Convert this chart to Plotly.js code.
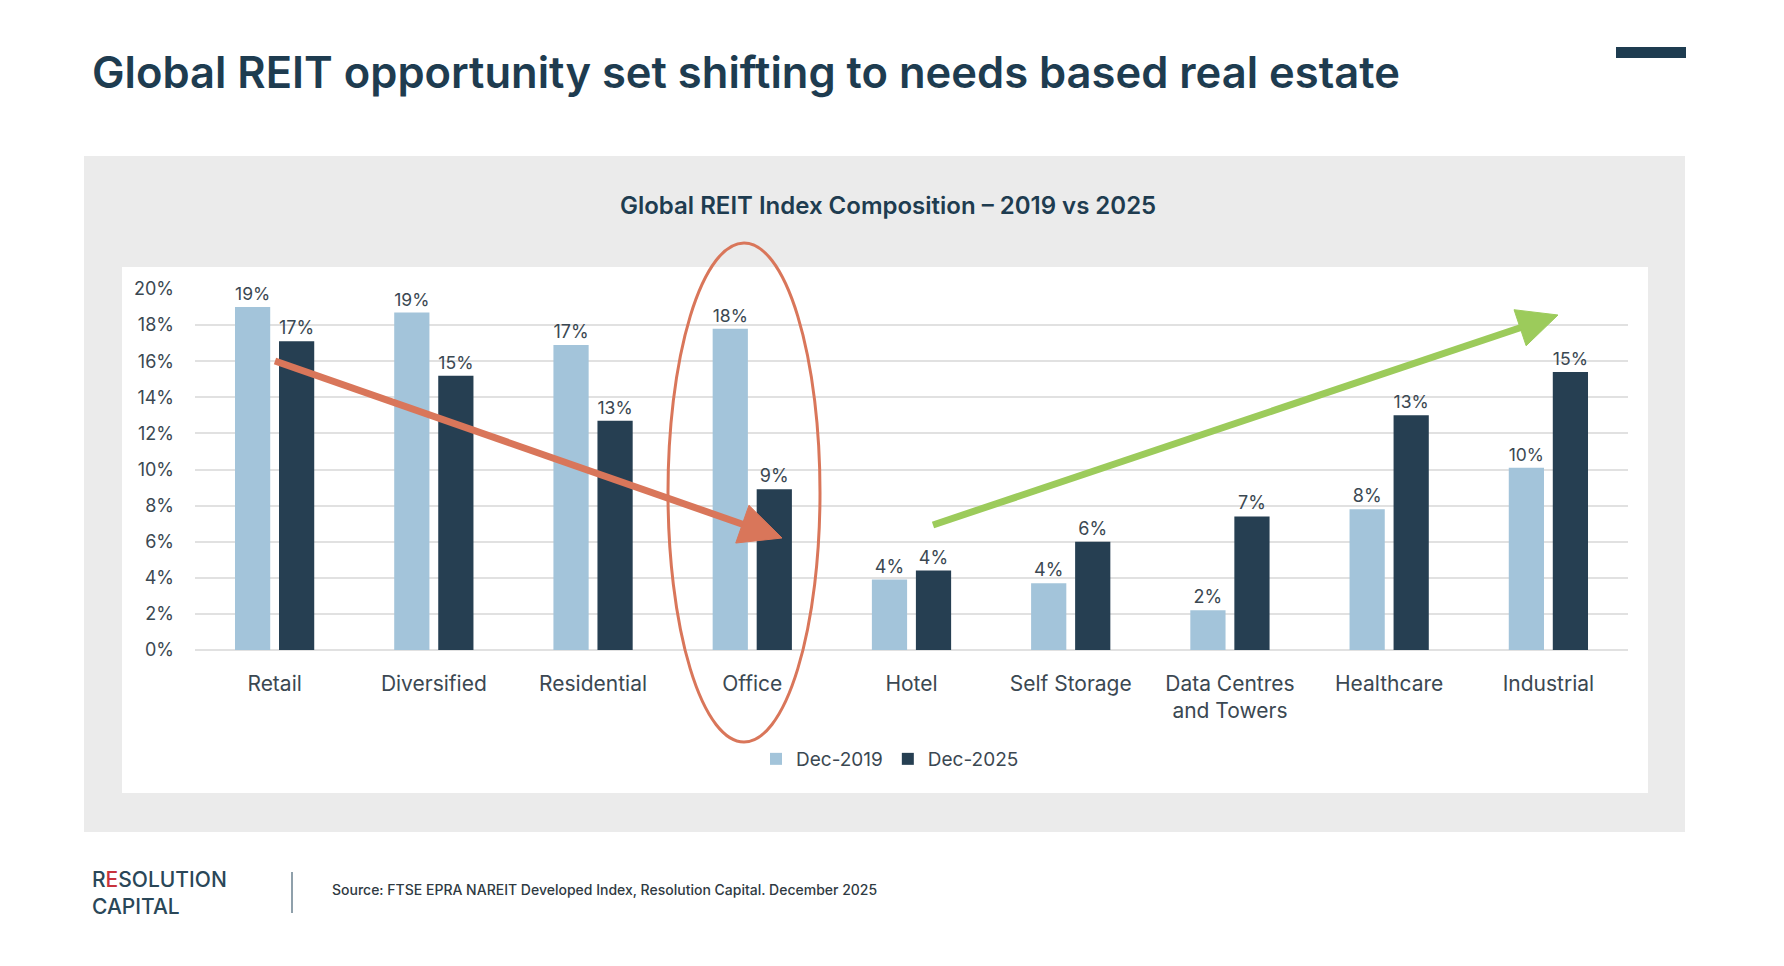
<!DOCTYPE html>
<html>
<head>
<meta charset="utf-8">
<script src="https://cdn.plot.ly/plotly-3.0.1.min.js"></script>
<style>
  html, body { margin: 0; padding: 0; background: #ffffff; }
  #chart { width: 1784px; height: 966px; }
</style>
</head>
<body>
<div id="chart"></div>
<script>
// Data
const sectors = ['Retail', 'Diversified', 'Residential', 'Office', 'Hotel',
                 'Self Storage', 'Data Centres<br>and Towers', 'Healthcare', 'Industrial'];
const dec2019 = [19.0, 18.7, 16.9, 17.8, 3.9, 3.7, 2.2, 7.8, 10.1];
const dec2025 = [17.1, 15.2, 12.7, 8.9, 4.4, 6.0, 7.4, 13.0, 15.4];
const seriesNames = ['Dec-2019', 'Dec-2025'];
const yTicks = [0, 2, 4, 6, 8, 10, 12, 14, 16, 18, 20];

const FONT = 'Inter, "Open Sans", sans-serif';
const TEXT = '#3b4852';
const NAVY = '#1e3c50';
const LIGHT = '#a3c4da';
const DARK = '#263f52';
const SALMON = '#d9765a';
const GREEN = '#9ccb5b';

// plot area in page pixels, used to place the decorations
const PL = 195, PR = 1628, PT = 289, PB = 650;
const fx = x => (x - PL) / (PR - PL);
const fy = y => (PB - y) / (PB - PT);

function barTrace(name, values, color) {
    return {
        type: 'bar',
        name,
        x: sectors,
        y: values,
        marker: { color },
        texttemplate: '%{y:.0f}%',
        textposition: 'outside',
        textfont: { family: FONT, size: 18, color: TEXT },
        cliponaxis: false,
        hoverinfo: 'skip'
    };
}

/**
 * Arrow made of a thick line plus a filled triangle head (page pixels)
 */
function arrowShapes(x0, y0, x1, y1, color, width, headLen, headHalf) {
    const dx = x1 - x0, dy = y1 - y0;
    const len = Math.hypot(dx, dy);
    const ux = dx / len, uy = dy / len;
    const bx = x1 - ux * headLen, by = y1 - uy * headLen;
    const ax = bx - uy * headHalf, ay = by + ux * headHalf;
    const cx = bx + uy * headHalf, cy = by - ux * headHalf;
    return [
        { type: 'line', xref: 'paper', yref: 'paper',
          x0: fx(x0), y0: fy(y0), x1: fx(bx + ux * 4), y1: fy(by + uy * 4),
          line: { color, width } },
        { type: 'path', xref: 'paper', yref: 'paper',
          path: `M ${fx(x1)} ${fy(y1)} L ${fx(ax)} ${fy(ay)} L ${fx(cx)} ${fy(cy)} Z`,
          fillcolor: color, line: { color, width: 1 } }
    ];
}

function rect(x0, y0, x1, y1, color, layer) {
    return { type: 'rect', xref: 'paper', yref: 'paper', layer,
             x0: fx(x0), y0: fy(y0), x1: fx(x1), y1: fy(y1),
             fillcolor: color, line: { width: 0 } };
}

function note(text, x, y, size, color, weight, extra = {}) {
    return Object.assign({
        text, xref: 'paper', yref: 'paper', x: fx(x), y: fy(y),
        xanchor: 'left', yanchor: 'middle', align: 'left',
        showarrow: false, font: { family: FONT, size, color, weight }
    }, extra);
}

const traces = [
    barTrace(seriesNames[0], dec2019, LIGHT),
    barTrace(seriesNames[1], dec2025, DARK)
];

const shapes = [
    rect(84, 156, 1685, 832, '#ebebeb', 'below'),
    rect(122, 267, 1648, 793, '#ffffff', 'below'),
    rect(1616, 47, 1686, 58, NAVY, 'above'),
    { type: 'line', xref: 'paper', yref: 'paper', x0: fx(292), x1: fx(292),
      y0: fy(872), y1: fy(913), line: { color: '#8fa0ab', width: 2 } },
    // office highlight
    { type: 'circle', xref: 'paper', yref: 'paper',
      x0: fx(668), x1: fx(820), y0: fy(243), y1: fy(742),
      line: { color: SALMON, width: 3 } },
    ...arrowShapes(275, 361, 782, 538, SALMON, 7, 42, 20),
    ...arrowShapes(933, 525, 1558, 315, GREEN, 7, 40, 19)
];

const annotations = [
    note('Global REIT opportunity set shifting to needs based real estate', 90, 72, 43.5, NAVY, 600),
    note('Global REIT Index Composition – 2019 vs 2025', 888, 205, 24, NAVY, 600,
         { xanchor: 'center', align: 'center' }),
    note('R<span style="color:#c8323c">E</span>SOLUTION<br>CAPITAL', 90, 893, 21, '#2a4758', 500),
    note('Source: FTSE EPRA NAREIT Developed Index, Resolution Capital. December 2025', 330, 889, 14, '#2f3a42', 500)
];

const layout = {
    width: 1784,
    height: 966,
    paper_bgcolor: '#ffffff',
    plot_bgcolor: 'rgba(0,0,0,0)',
    margin: { l: PL, r: 1784 - PR, t: PT, b: 966 - PB, pad: 0 },
    font: { family: FONT, color: TEXT },
    barmode: 'group',
    bargap: 0.447,
    bargroupgap: 0.2,
    showlegend: true,
    legend: {
        orientation: 'h',
        x: fx(890), y: fy(759), xanchor: 'center', yanchor: 'middle',
        font: { family: FONT, size: 19, color: TEXT },
        itemwidth: 30,
        bgcolor: 'rgba(0,0,0,0)'
    },
    xaxis: {
        type: 'category',
        showgrid: false,
        zeroline: false,
        showline: false,
        ticks: '',
        ticklabelstandoff: 19,
        tickfont: { family: FONT, size: 21, color: TEXT }
    },
    yaxis: {
        range: [0, 20],
        tickvals: yTicks,
        ticktext: yTicks.map(v => v + '%'),
        showgrid: true,
        gridcolor: '#e1e1e1',
        gridwidth: 2,
        zeroline: true,
        zerolinecolor: '#e1e1e1',
        zerolinewidth: 2,
        showline: false,
        ticks: '',
        ticklabelstandoff: 20,
        tickfont: { family: FONT, size: 18, color: TEXT }
    },
    shapes,
    annotations
};

Plotly.newPlot('chart', traces, layout, { displayModeBar: false, staticPlot: true });
</script>
</body>
</html>
